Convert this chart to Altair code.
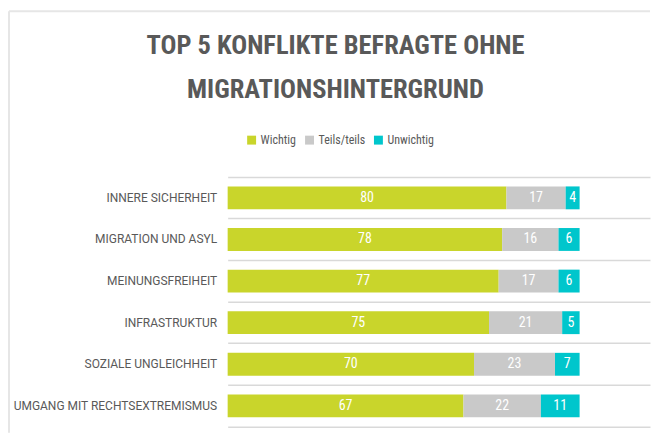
import altair as alt
import pandas as pd

categories = [
    "INNERE SICHERHEIT",
    "MIGRATION UND ASYL",
    "MEINUNGSFREIHEIT",
    "INFRASTRUKTUR",
    "SOZIALE UNGLEICHHEIT",
    "UMGANG MIT RECHTSEXTREMISMUS",
]
series = ["Wichtig", "Teils/teils", "Unwichtig"]
wichtig = [80, 78, 77, 75, 70, 67]
teils = [17, 16, 17, 21, 23, 22]
unwichtig = [4, 6, 6, 5, 7, 11]
colors = ["#c9d52b", "#c9c9c9", "#00c6cc"]

rows = []
for i, c in enumerate(categories):
    for j, (s, vals) in enumerate(zip(series, [wichtig, teils, unwichtig])):
        rows.append({"cat": c, "series": s, "order": j, "value": vals[i]})
df = pd.DataFrame(rows)

W, H = 423, 250
NARROW = "Roboto Condensed, Roboto, sans-serif"
FONT = "Roboto, sans-serif"
GRAY = "#595959"
LINE = "#d9d9d9"

base = alt.Chart(df).transform_stack(
    stack="value",
    groupby=["cat"],
    as_=["x0", "x1"],
    offset="normalize",
    sort=[alt.SortField(field="order", order="ascending")],
).transform_calculate(mid="(datum.x0 + datum.x1) / 2")

xscale = alt.Scale(domain=[0, 1.2], nice=False, zero=True)
yaxis = alt.Axis(
    title=None, ticks=False, domain=False, grid=True, bandPosition=0,
    gridColor=LINE, gridWidth=1.5, labelFont=FONT, labelFontSize=12,
    labelColor=GRAY, labelPadding=11, labelLimit=300,
)
yenc = alt.Y("cat:N", sort=categories,
             scale=alt.Scale(paddingInner=0, paddingOuter=0), axis=yaxis)

bars = base.mark_bar(height={"band": 0.55}).encode(
    x=alt.X("x0:Q", scale=xscale,
            axis=alt.Axis(title=None, labels=False, ticks=False, grid=False,
                          domain=True, domainColor=LINE, domainWidth=1.5)),
    x2="x1:Q",
    y=yenc,
    color=alt.Color(
        "series:N",
        scale=alt.Scale(domain=series, range=colors),
        legend=alt.Legend(
            title=None, orient="none", legendX=18, legendY=-43,
            direction="horizontal", symbolType="square", symbolSize=80,
            symbolStrokeWidth=0, labelFont=NARROW, labelFontSize=12,
            labelColor=GRAY, columnPadding=7, labelOffset=3, padding=0,
        ),
    ),
)

labels = base.mark_text(color="white", font=NARROW, fontSize=14).encode(
    x=alt.X("mid:Q", scale=xscale),
    y=alt.Y("cat:N", sort=categories),
    text="value:Q",
)

one = alt.Data(values=[{}])
frame_top = alt.Chart(one).mark_rule(color="#e6e6e6", strokeWidth=2).encode(
    x=alt.value(-219), x2=alt.value(W), y=alt.value(-166))
frame_left = alt.Chart(one).mark_rule(color="#e6e6e6", strokeWidth=2).encode(
    x=alt.value(-219), y=alt.value(-166), y2=alt.value(H + 6))

chart = alt.layer(frame_top, frame_left, bars, labels).properties(
    width=W, height=H,
    padding={"left": 0, "top": 2, "right": 0, "bottom": 0},
    title=alt.Title(
        ["TOP 5 KONFLIKTE BEFRAGTE OHNE", "MIGRATIONSHINTERGRUND"],
        font=NARROW, fontSize=26.5, fontWeight="bold", color=GRAY,
        anchor="middle", frame="bounds", offset=-93, lineHeight=44, dx=6,
    ),
).configure_view(stroke=None)

chart.save("out.html", embed_options={"renderer": "svg", "actions": False})
